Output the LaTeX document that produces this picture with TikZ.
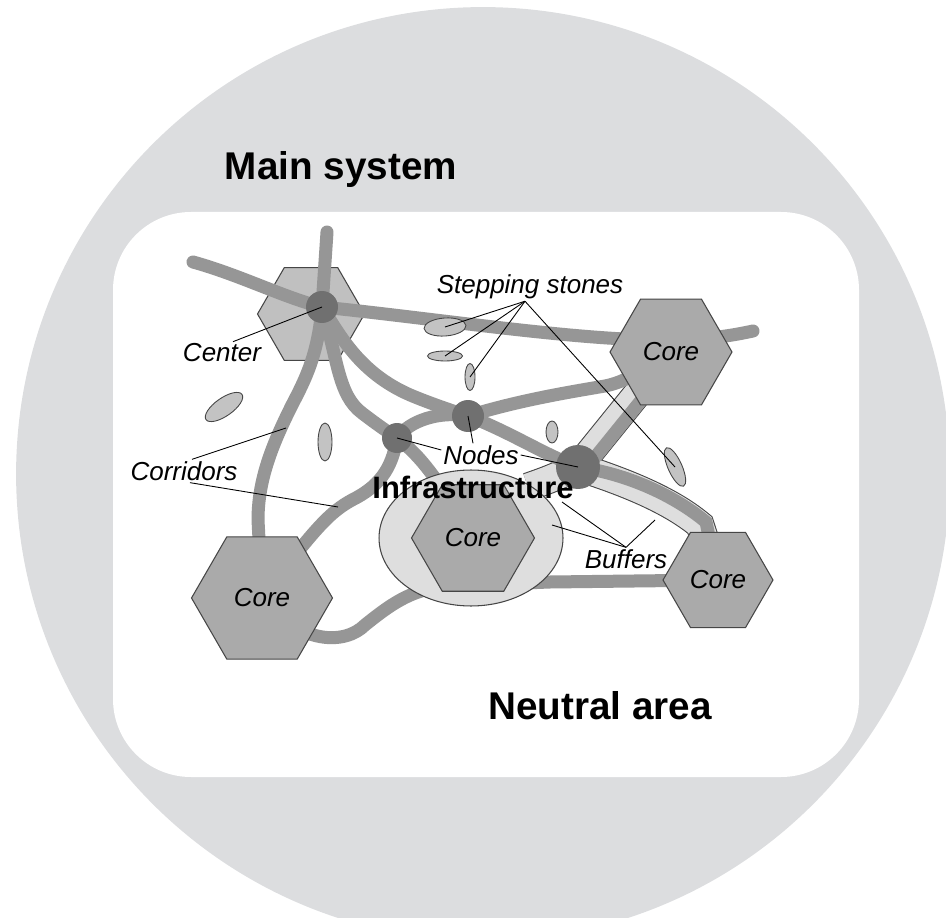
\documentclass[tikz,border=0pt]{standalone}
\usepackage{fontspec}
\setmainfont{Liberation Sans}
\usetikzlibrary{shapes.geometric}

\definecolor{ringgray}{RGB}{220,221,223}
\definecolor{roadgray}{RGB}{150,150,150}
\definecolor{coregray}{RGB}{170,170,170}
\definecolor{hubgray}{RGB}{192,192,192}
\definecolor{dotgray}{RGB}{112,112,112}
\definecolor{buffergray}{RGB}{222,222,222}
\definecolor{stonegray}{RGB}{195,195,195}
\definecolor{edgegray}{RGB}{70,70,70}

\begin{document}
\begin{tikzpicture}[x=0.02cm, y=-0.02cm,
  core/.style={regular polygon, regular polygon sides=6, draw=edgegray, line width=0.6pt,
    fill=coregray, inner sep=0pt, font=\fontsize{14.8}{17}\selectfont\itshape},
  hub/.style={circle, fill=dotgray, inner sep=0pt},
  stone/.style={ellipse, draw=edgegray, line width=0.5pt, fill=stonegray, inner sep=0pt},
  road/.style={draw=roadgray, line width=7.4pt, line cap=round},
  band/.style={draw=buffergray, line width=15.3pt, preaction={draw=edgegray, line width=16.5pt}},
  tag/.style={font=\fontsize{14.8}{17}\selectfont\itshape, inner sep=1pt},
  heading/.style={font=\fontsize{22}{26}\selectfont\bfseries},
  leader/.style={draw=black, line width=0.5pt}
]

% background
\clip (0,0) rectangle (946,918);
\fill[ringgray] (483,474) circle (9.34cm);
\fill[white, rounded corners=1.56cm] (113,212) rectangle (859,777);

% positions
\coordinate (p_center) at (322,307);
\coordinate (p_node1) at (397,438);
\coordinate (p_node2) at (468,416);
\coordinate (p_node3) at (578,467);
\coordinate (p_ne) at (671,352);
\coordinate (p_sw) at (262,598);
\coordinate (p_mid) at (473,538);
\coordinate (p_se) at (718,580);
\coordinate (west_end) at (193,262);
\coordinate (east_end) at (753,331);
\coordinate (north_end) at (327,232);
\coordinate (band_end) at (528,487);

\node[core, fill=hubgray, minimum size=2.14cm] (hub_hex) at (311,314) {};

% buffers along the corridors
\draw[band] (band_end) .. controls (548,480) .. (p_node3) -- (p_ne);
\draw[band] (p_node3) .. controls (625,482) and (670,500) .. (700,525) -- (p_se);

% corridors
\draw[road] (west_end) .. controls (240,275) and (285,298) .. (p_center)
  .. controls (430,318) and (560,338) .. (650,340) .. controls (700,341) and (730,336) .. (east_end);
\draw[road] (north_end) -- (p_center);
\draw[road] (p_center) .. controls (318,355) and (305,380) .. (292,405)
  .. controls (272,445) and (258,480) .. (258,520) -- (p_sw);
\draw[road] (p_center) .. controls (338,360) and (338,395) .. (362,413)
  .. controls (375,423) and (385,430) .. (p_node1) .. controls (415,452) and (432,468) .. (p_mid);
\draw[road] (p_center) .. controls (340,335) and (360,375) .. (415,397)
  .. controls (435,405) and (450,410) .. (p_node2) .. controls (510,432) and (545,455) .. (p_node3)
  .. controls (628,474) and (675,496) .. (706,522) -- (p_se);
\draw[road] (p_node1) .. controls (410,420) and (440,411) .. (p_node2);
\draw[road] (p_node2) .. controls (520,400) and (570,392) .. (605,386)
  .. controls (625,382) and (640,372) .. (p_ne);
\draw[road] ([shift={(6,4)}]p_ne) -- ([shift={(6,4)}]p_node3);
\draw[road] (p_node1) .. controls (392,470) and (378,487) .. (352,500)
  .. controls (330,512) and (315,528) .. (p_sw);
\draw[road] (p_sw) .. controls (300,645) and (345,645) .. (365,625)
  .. controls (390,605) and (410,590) .. (445,586) -- (550,582) -- (p_se);

% cores
\node[core, minimum size=2.44cm] (core_ne) at (p_ne) {Core};
\node[core, minimum size=2.82cm] (core_sw) at (p_sw) {Core};
\node[core, minimum size=2.2cm] (core_se) at (p_se) {Core};
\node[ellipse, draw=edgegray, line width=0.6pt, fill=buffergray,
  minimum width=3.68cm, minimum height=2.72cm] (buffer_zone) at (471,538) {};
\node[core, minimum size=2.46cm] (core_mid) at (p_mid) {Core};

% nodes
\node[hub, minimum size=0.64cm] (center) at (p_center) {};
\node[hub, minimum size=0.6cm] (node1) at (p_node1) {};
\node[hub, minimum size=0.64cm] (node2) at (p_node2) {};
\node[hub, minimum size=0.88cm] (node3) at (p_node3) {};

% stepping stones
\node[stone, minimum width=0.84cm, minimum height=0.36cm, rotate=4] (stone1) at (445,327) {};
\node[stone, minimum width=0.7cm, minimum height=0.2cm] (stone2) at (445,356) {};
\node[stone, minimum width=0.2cm, minimum height=0.54cm] (stone3) at (470,377) {};
\node[stone, minimum width=0.88cm, minimum height=0.36cm, rotate=35] (stone4) at (224,407) {};
\node[stone, minimum width=0.28cm, minimum height=0.76cm] (stone5) at (325,442) {};
\node[stone, minimum width=0.24cm, minimum height=0.44cm] (stone6) at (552,432) {};
\node[stone, minimum width=0.84cm, minimum height=0.28cm, rotate=-66] (stone7) at (675,467) {};

% labels
\node[heading] (main_label) at (341,170) {Main system};
\node[heading] (neutral_label) at (600,706) {Neutral area};
\node[font=\fontsize{17.6}{20}\selectfont\bfseries] (infra_label) at (473,487) {Infrastructure};
\node[tag] (stones_label) at (530,287) {Stepping stones};
\node[tag] (center_label) at (222,353) {Center};
\node[tag] (corridors_label) at (184,471) {Corridors};
\node[tag] (nodes_label) at (481,455) {Nodes};
\node[tag] (buffers_label) at (626,559) {Buffers};

\coordinate (corridor_a) at (286,428);
\coordinate (corridor_b) at (338,507);
\coordinate (buffer_a) at (562,502);
\coordinate (buffer_b) at (552,525);
\coordinate (buffer_c) at (655,520);

\draw[leader] ([xshift=0.22cm]center_label.north) -- (center.center);
\foreach \s in {stone1,stone2,stone3,stone7}
  \draw[leader] ([xshift=-0.1cm]stones_label.south) -- (\s.center);
\draw[leader] ([xshift=0.16cm]corridors_label.north) -- (corridor_a);
\draw[leader] ([xshift=0.12cm]corridors_label.south) -- (corridor_b);
\draw[leader] ([yshift=0.1cm]nodes_label.west) -- (node1.center);
\draw[leader] ([xshift=-0.16cm]nodes_label.north) -- (node2.center);
\draw[leader] (nodes_label.east) -- (node3.center);
\foreach \b in {buffer_a,buffer_b,buffer_c}
  \draw[leader] (buffers_label.north) -- (\b);
\end{tikzpicture}
\end{document}
